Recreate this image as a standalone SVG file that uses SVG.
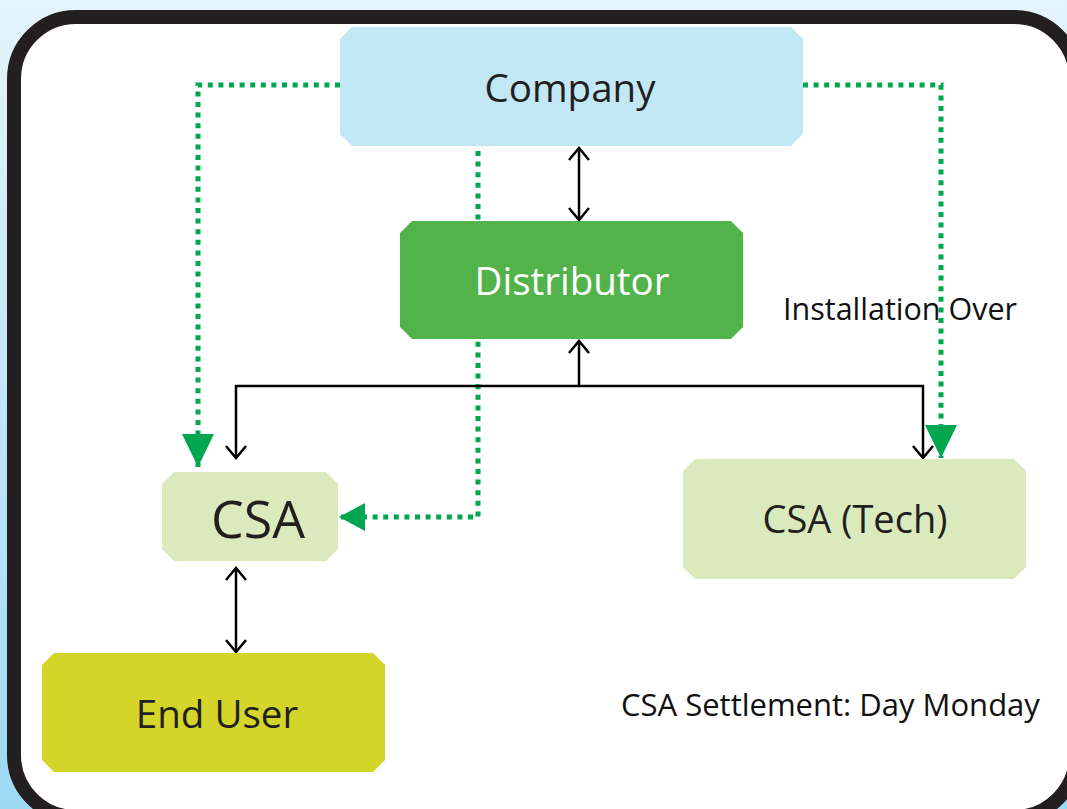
<svg xmlns="http://www.w3.org/2000/svg" width="1067" height="809" viewBox="0 0 1067 809">
<defs>
<linearGradient id="bg" x1="0" y1="0" x2="0" y2="1">
<stop offset="0" stop-color="#e4f4fb"/>
<stop offset="1" stop-color="#9cd9f3"/>
</linearGradient>
<marker id="open" markerUnits="userSpaceOnUse" markerWidth="24" markerHeight="24" viewBox="0 0 24 24" refX="14" refY="12" orient="auto-start-reverse">
<path d="M2,2 L14,12 L2,22" fill="none" stroke="#000" stroke-width="2.5"/>
</marker>
<marker id="gtri" markerUnits="userSpaceOnUse" markerWidth="34" markerHeight="34" viewBox="0 0 34 34" refX="33" refY="17" orient="auto">
<path d="M0,1 L33,17 L0,33 z" fill="#00a650"/>
</marker>
<marker id="gtri2" markerUnits="userSpaceOnUse" markerWidth="28" markerHeight="30" viewBox="0 0 28 30" refX="26" refY="15" orient="auto">
<path d="M0,1 L26,15 L0,29 z" fill="#00a650"/>
</marker>
</defs>
<style>
.lbl{font-family:"Open Sans","Noto Sans","Liberation Sans",sans-serif;fill:#231f20;text-anchor:middle}
.note{font-family:"Open Sans","Noto Sans","Liberation Sans",sans-serif;fill:#111;}
.dot{fill:none;stroke:#00a650;stroke-width:5;stroke-dasharray:5 5.6}
.blk{fill:none;stroke:#000;stroke-width:2.5}
</style>
<rect x="0" y="0" width="1067" height="809" fill="url(#bg)"/>
<rect x="14" y="17" width="1062" height="800" rx="62" ry="62" fill="#fff" stroke="#231f20" stroke-width="14"/>

<g id="connectors">
<path class="dot" d="M340,85 H198 V467" marker-end="url(#gtri)"/>
<path class="dot" d="M803,85 H941 V458" marker-end="url(#gtri)"/>
<path class="dot" d="M478,151 V517 H339" marker-end="url(#gtri2)"/>
<path class="blk" d="M579,148 V220" marker-start="url(#open)" marker-end="url(#open)"/>
<path class="blk" d="M579,386 V341" marker-end="url(#open)"/>
<path class="blk" d="M236,458 V386 H923 V458" marker-start="url(#open)" marker-end="url(#open)"/>
<path class="blk" d="M236,568 V652" marker-start="url(#open)" marker-end="url(#open)"/>
</g>

<g id="company">
<polygon points="352,27 791,27 803,39 803,134 791,146 352,146 340,134 340,39" fill="#c2e7f5"/>
<text class="lbl" x="570" y="102" font-size="38.5">Company</text>
</g>
<g id="distributor">
<polygon points="412,221 731,221 743,233 743,327 731,339 412,339 400,327 400,233" fill="#52b34a"/>
<text class="lbl" x="572" y="295" font-size="38.5" style="fill:#fff">Distributor</text>
</g>
<g id="csa">
<polygon points="174,472 326,472 338,484 338,549 326,561 174,561 162,549 162,484" fill="#dbeabd"/>
<text class="lbl" x="258" y="538" font-size="52">CSA</text>
</g>
<g id="csa-tech">
<polygon points="695,459 1014,459 1026,471 1026,567 1014,579 695,579 683,567 683,471" fill="#dbeabd"/>
<text class="lbl" x="855" y="533" font-size="38">CSA (Tech)</text>
</g>
<g id="end-user">
<polygon points="54,653 373,653 385,665 385,760 373,772 54,772 42,760 42,665" fill="#d3d628"/>
<text class="lbl" x="217" y="728" font-size="38.5">End User</text>
</g>
<text class="note" x="783" y="320" font-size="30.5">Installation Over</text>
<text class="note" x="621" y="716" font-size="31">CSA Settlement: Day Monday</text>
</svg>
